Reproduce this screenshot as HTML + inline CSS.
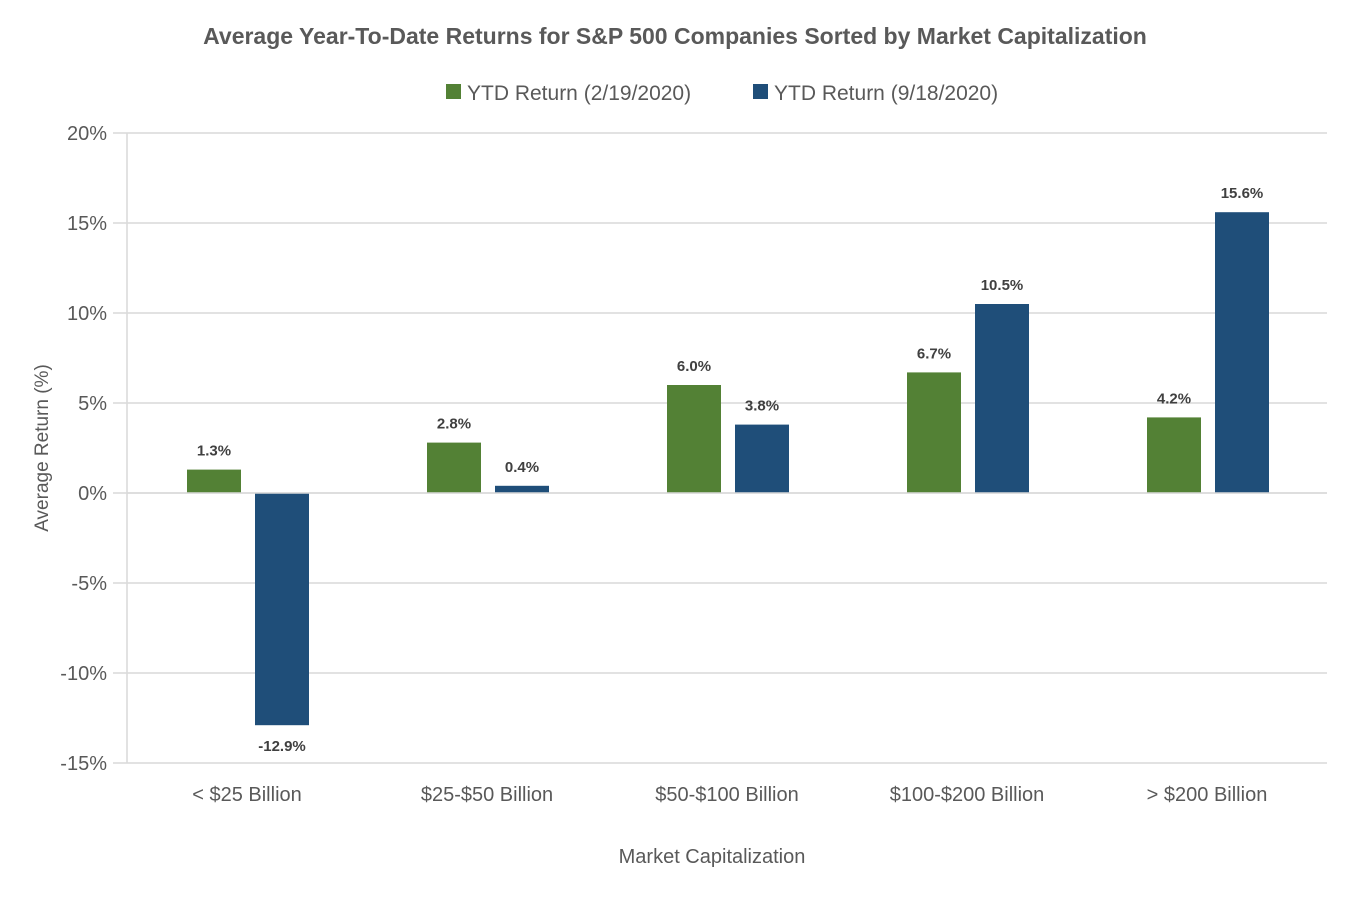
<!DOCTYPE html>
<html><head><meta charset="utf-8"><style>
html,body{margin:0;padding:0;background:#fff;}
svg text{font-family:"Liberation Sans",sans-serif;}
</style></head><body>
<svg id="chart" width="1350" height="900" xmlns="http://www.w3.org/2000/svg">
<rect width="1350" height="900" fill="#fff"/>
<text x="675" y="44" text-anchor="middle" font-size="23" font-weight="bold" fill="#595959">Average Year-To-Date Returns for S&amp;P 500 Companies Sorted by Market Capitalization</text>
<g>
<rect x="446" y="84" width="15" height="15" fill="#538135"/>
<text x="467" y="100" font-size="21" fill="#595959">YTD Return (2/19/2020)</text>
<rect x="753" y="84" width="15" height="15" fill="#1F4E79"/>
<text x="774" y="100" font-size="21" fill="#595959">YTD Return (9/18/2020)</text>
</g>
<g id="grid"></g>
<g id="bars"></g>
<text transform="translate(48,448) rotate(-90)" text-anchor="middle" font-size="19" fill="#595959">Average Return (%)</text>
<text x="712" y="863" text-anchor="middle" font-size="20" fill="#595959">Market Capitalization</text>
</svg>
<script>
const categories = ["< $25 Billion", "$25-$50 Billion", "$50-$100 Billion", "$100-$200 Billion", "> $200 Billion"];
const febValues = [1.3, 2.8, 6.0, 6.7, 4.2];
const sepValues = [-12.9, 0.4, 3.8, 10.5, 15.6];
const yTicks = [20, 15, 10, 5, 0, -5, -10, -15];

const NS = "http://www.w3.org/2000/svg";
const plotLeft = 127, plotRight = 1327, plotTop = 133, plotBottom = 763, yMax = 20, yMin = -15;
function yScale(v){ return plotTop + (yMax - v) / (yMax - yMin) * (plotBottom - plotTop); }
const band = (plotRight - plotLeft) / categories.length;
function xc(i){ return plotLeft + band * (i + 0.5); }
function mk(tag, attrs, parent){ const e = document.createElementNS(NS, tag); for (const k in attrs) e.setAttribute(k, attrs[k]); parent.appendChild(e); return e; }

const grid = document.getElementById('grid');
yTicks.forEach(t => {
  const l = mk('line', {x1: plotLeft - 14, x2: plotRight, y1: yScale(t), y2: yScale(t), stroke: '#d9d9d9', 'stroke-width': 1.5}, grid);
  
  
  const tx = mk('text', {x: 107, y: yScale(t) + 7, 'text-anchor': 'end', 'font-size': 20, fill: '#595959'}, grid);
  tx.textContent = t + '%';
  
  
});
const ax = mk('line', {x1: plotLeft, x2: plotLeft, y1: plotTop, y2: plotBottom, stroke: '#d9d9d9', 'stroke-width': 1.5}, grid);



const bars = document.getElementById('bars');
const bw = 54;
function drawBar(i, v, x0, color, name){
  const y0 = yScale(0), yv = yScale(v);
  const r = mk('rect', {x: x0, y: Math.min(y0, yv), width: bw, height: Math.abs(yv - y0), fill: color}, bars);
  
  
  const ly = v >= 0 ? yv - 14 : yv + 26;
  const t = mk('text', {x: x0 + bw / 2, y: ly, 'text-anchor': 'middle', 'font-size': 15, 'font-weight': 'bold', fill: '#404040'}, bars);
  t.textContent = v.toFixed(1) + '%';
  
  
}
categories.forEach((c, i) => {
  drawBar(i, febValues[i], xc(i) - 60, '#538135', 'bar-feb');
  drawBar(i, sepValues[i], xc(i) + 8, '#1F4E79', 'bar-sep');
  const t = mk('text', {x: xc(i), y: 801, 'text-anchor': 'middle', 'font-size': 20, fill: '#595959'}, bars);
  t.textContent = c;
  
  
});
const zl = mk('line', {x1: plotLeft, x2: plotRight, y1: yScale(0), y2: yScale(0), stroke: '#d9d9d9', 'stroke-width': 1.5}, bars);


</script>
</body></html>
